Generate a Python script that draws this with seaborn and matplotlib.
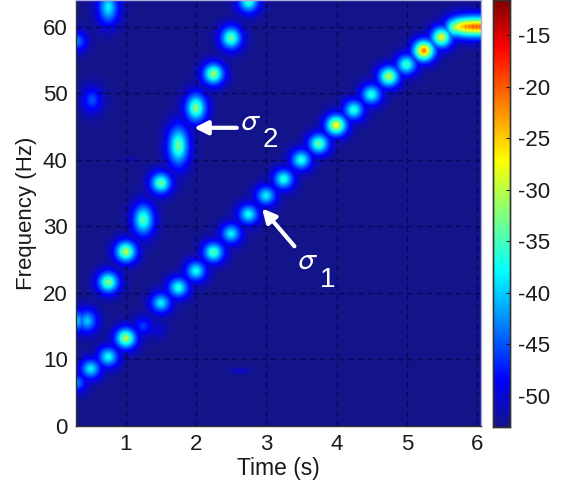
import numpy as np
import pandas as pd
import seaborn as sns
import matplotlib.pyplot as plt
from matplotlib.colors import LinearSegmentedColormap

# === DATA ===
# first ridge (sigma 1)
ridge1_time = [0.30, 0.50, 0.75, 1.00, 1.25, 1.50, 1.75, 2.00, 2.25, 2.50, 2.75, 3.00, 3.25, 3.50,
               3.75, 4.00, 4.25, 4.50, 4.75, 5.00, 5.25, 5.50,
               5.70, 5.75, 5.80, 5.85, 5.90, 5.95, 6.00, 6.05]
ridge1_freq = [6.5, 8.6, 10.4, 13.2, 15.0, 18.5, 20.8, 23.3, 26.1, 28.9, 31.8, 34.6, 37.1, 40.0,
               42.4, 45.2, 47.5, 49.8, 52.5, 54.3, 56.4, 58.4,
               59.9, 60.0, 60.0, 60.0, 60.0, 60.0, 60.0, 60.0]
ridge1_level = [-43, -38, -37, -30, -46, -38, -36, -37, -34, -38, -37, -38, -36, -36,
                -33, -27, -36, -36, -30, -35, -21, -28,
                -30, -27, -24, -22, -21, -20, -20, -20]

# second ridge (sigma 2)
ridge2_time = [0.30, 0.45, 0.75, 1.00, 1.25, 1.50, 1.75, 2.00, 2.25, 2.50, 2.75]
ridge2_freq = [15.8, 15.8, 21.6, 26.2, 31.0, 36.5, 42.1, 47.8, 52.9, 58.3, 63.8]
ridge2_level = [-40, -40, -32, -30, -34, -33, -33, -32, -31, -33, -35]
ridge2_spread = [1.7, 1.7, 1.5, 1.5, 2.2, 1.5, 2.8, 2.0, 1.5, 1.6, 1.6]

# weak stuff
weak_time = [0.30, 0.52, 0.75, 1.45, 2.62, 1.05]
weak_freq = [57.8, 49.0, 62.9, 14.5, 8.3, 40.0]
weak_level = [-43, -45, -38, -50, -50, -51]
weak_spread = [1.5, 1.9, 2.4, 1.5, 0.4, 0.4]

colorbar_ticks = [-15, -20, -25, -30, -35, -40, -45, -50]
x_ticks = [1, 2, 3, 4, 5, 6]
y_ticks = [0, 10, 20, 30, 40, 50, 60]

# === BUILD THE SPECTROGRAM GRID ===
t_min, t_max = 0.29, 6.05
f_min, f_max = 0.0, 64.0
v_min, v_max = -53.0, -11.6
n_t, n_f = 404, 426

dt = (t_max - t_min) / n_t
df_ = (f_max - f_min) / n_f
t_grid = t_min + dt * (np.arange(n_t) + 0.5)
f_grid = f_max - df_ * (np.arange(n_f) + 0.5)
T, F = np.meshgrid(t_grid, f_grid)

spec = np.full(T.shape, v_min)


def add_peaks(times, freqs, levels, spreads=None):
    global spec
    for i in range(len(times)):
        sf = 1.45 if spreads is None else spreads[i]
        r = np.sqrt(((T - times[i]) / 0.14) ** 2 + ((F - freqs[i]) / sf) ** 2)
        # soft lobe with a wide blue skirt
        blob = v_min + (levels[i] - v_min) * np.exp(-r ** 1.6)
        spec = np.maximum(spec, blob)


add_peaks(ridge1_time, ridge1_freq, ridge1_level)
add_peaks(ridge2_time, ridge2_freq, ridge2_level, ridge2_spread)
add_peaks(weak_time, weak_freq, weak_level, weak_spread)

spec_df = pd.DataFrame(spec, index=f_grid, columns=t_grid)

# jet, with the washed out navy of the reference at the bottom
cmap = LinearSegmentedColormap.from_list("jet_like", [
    (0.00, "#14148a"), (0.11, "#0000ff"), (0.365, "#00ffff"),
    (0.625, "#ffff00"), (0.89, "#ff0000"), (1.00, "#800000")], N=256)


def tx(t):
    return (t - t_min) / dt


def fy(f):
    return (f_max - f) / df_


# === PLOT ===
plt.rcParams['font.family'] = ['Liberation Sans', 'DejaVu Sans']
plt.rcParams['mathtext.fontset'] = 'stixsans'

fig = plt.figure(figsize=(5.65, 4.87), dpi=100)
W, H = 565.0, 487.0
ax = fig.add_axes([76 / W, 1 - 426 / H, 404.5 / W, 426 / H])
cax = fig.add_axes([492.5 / W, 1 - 427 / H, 17.5 / W, 427 / H])

sns.heatmap(spec_df, ax=ax, cbar_ax=cax, cmap=cmap, vmin=v_min, vmax=v_max,
            xticklabels=False, yticklabels=False, rasterized=True,
            cbar_kws={"ticks": colorbar_ticks})

# dashed grid sits under the lobes, so the lobes go again on top of it
for t in x_ticks:
    ax.axvline(tx(t), color="#07075a", lw=1, ls=(0, (4, 3)), zorder=2)
for f in y_ticks[1:]:
    ax.axhline(fy(f), color="#07075a", lw=1, ls=(0, (4, 3)), zorder=2)
sns.heatmap(spec_df, ax=ax, mask=spec_df < -49, cbar=False, cmap=cmap, vmin=v_min, vmax=v_max,
            xticklabels=False, yticklabels=False, rasterized=True, zorder=3)

ax.set_xticks([tx(t) for t in x_ticks])
ax.set_xticklabels([str(t) for t in x_ticks], rotation=0)
ax.set_yticks([fy(f) for f in y_ticks])
ax.set_yticklabels([str(f) for f in y_ticks], rotation=0)
ax.tick_params(length=0, labelsize=16, pad=6, colors="#1a1a1a")
ax.set_xlabel("Time (s)", fontsize=16.5, labelpad=1, color="#1a1a1a")
ax.set_ylabel("Frequency (Hz)", fontsize=16, labelpad=4, color="#1a1a1a")

for side, sp in ax.spines.items():
    sp.set_visible(True)
    sp.set_linewidth(1)
    sp.set_color("#333333" if side in ("left", "bottom") else "#aaaadd")
    sp.set_zorder(4)

# labels on the ridges
arrow_style = dict(arrowstyle="-|>,head_length=0.8,head_width=0.4", color="white", lw=3,
                   shrinkA=0, shrinkB=0)
ax.annotate("", xy=(tx(2.94), fy(32.7)), xytext=(tx(3.40), fy(27.0)), arrowprops=arrow_style, zorder=5)
ax.annotate("", xy=(tx(1.97), fy(44.8)), xytext=(tx(2.58), fy(44.8)), arrowprops=arrow_style, zorder=5)
ax.text(tx(2.62), fy(45.7), r"$\sigma$", color="white", fontsize=22, va="center", ha="left", zorder=5)
ax.text(tx(2.95), fy(42.9), "2", color="white", fontsize=20, va="center", ha="left", zorder=5)
ax.text(tx(3.43), fy(24.8), r"$\sigma$", color="white", fontsize=22, va="center", ha="left", zorder=5)
ax.text(tx(3.76), fy(22.0), "1", color="white", fontsize=20, va="center", ha="left", zorder=5)

cax.tick_params(length=3, direction="in", labelsize=16, pad=6, colors="#1a1a1a")
cax.set_yticklabels([str(v) for v in colorbar_ticks])
for sp in cax.spines.values():
    sp.set_visible(True)
    sp.set_linewidth(1)
    sp.set_color("#333333")

fig.savefig("out.png", dpi=100)
